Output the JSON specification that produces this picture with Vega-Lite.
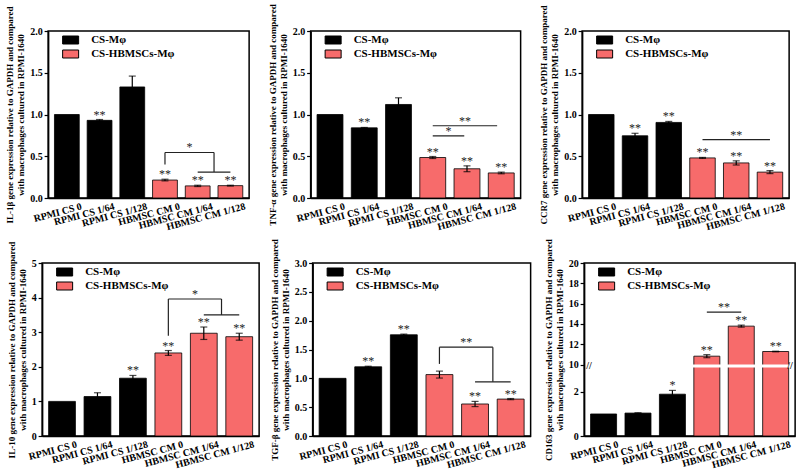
{
  "$schema": "https://vega.github.io/schema/vega-lite/v6.json",
  "padding": {"left": 4, "top": 3, "right": 4, "bottom": 0},
  "background": "white",
  "datasets": {
    "bars": [
      {"gene": "IL1b", "i": 1, "cond": "RPMI CS 0", "group": "CS-Mφ", "value": 1.0, "err": 0, "sig": ""},
      {"gene": "IL1b", "i": 2, "cond": "RPMI CS 1/64", "group": "CS-Mφ", "value": 0.93, "err": 0.01, "sig": "**"},
      {"gene": "IL1b", "i": 3, "cond": "RPMI CS 1/128", "group": "CS-Mφ", "value": 1.33, "err": 0.13, "sig": ""},
      {"gene": "IL1b", "i": 4, "cond": "HBMSC CM 0", "group": "CS-HBMSCs-Mφ", "value": 0.215, "err": 0.01, "sig": "**"},
      {"gene": "IL1b", "i": 5, "cond": "HBMSC CM 1/64", "group": "CS-HBMSCs-Mφ", "value": 0.145, "err": 0.008, "sig": "**"},
      {"gene": "IL1b", "i": 6, "cond": "HBMSC CM 1/128", "group": "CS-HBMSCs-Mφ", "value": 0.148, "err": 0.005, "sig": "**"},
      {"gene": "TNFa", "i": 1, "cond": "RPMI CS 0", "group": "CS-Mφ", "value": 1.0, "err": 0, "sig": ""},
      {"gene": "TNFa", "i": 2, "cond": "RPMI CS 1/64", "group": "CS-Mφ", "value": 0.84, "err": 0.005, "sig": "**"},
      {"gene": "TNFa", "i": 3, "cond": "RPMI CS 1/128", "group": "CS-Mφ", "value": 1.12, "err": 0.08, "sig": ""},
      {"gene": "TNFa", "i": 4, "cond": "HBMSC CM 0", "group": "CS-HBMSCs-Mφ", "value": 0.485, "err": 0.012, "sig": "**"},
      {"gene": "TNFa", "i": 5, "cond": "HBMSC CM 1/64", "group": "CS-HBMSCs-Mφ", "value": 0.35, "err": 0.035, "sig": "**"},
      {"gene": "TNFa", "i": 6, "cond": "HBMSC CM 1/128", "group": "CS-HBMSCs-Mφ", "value": 0.30, "err": 0.01, "sig": "**"},
      {"gene": "CCR7", "i": 1, "cond": "RPMI CS 0", "group": "CS-Mφ", "value": 1.0, "err": 0, "sig": ""},
      {"gene": "CCR7", "i": 2, "cond": "RPMI CS 1/64", "group": "CS-Mφ", "value": 0.745, "err": 0.03, "sig": "**"},
      {"gene": "CCR7", "i": 3, "cond": "RPMI CS 1/128", "group": "CS-Mφ", "value": 0.905, "err": 0.012, "sig": "**"},
      {"gene": "CCR7", "i": 4, "cond": "HBMSC CM 0", "group": "CS-HBMSCs-Mφ", "value": 0.48, "err": 0.006, "sig": "**"},
      {"gene": "CCR7", "i": 5, "cond": "HBMSC CM 1/64", "group": "CS-HBMSCs-Mφ", "value": 0.42, "err": 0.025, "sig": "**"},
      {"gene": "CCR7", "i": 6, "cond": "HBMSC CM 1/128", "group": "CS-HBMSCs-Mφ", "value": 0.31, "err": 0.018, "sig": "**"},
      {"gene": "IL10", "i": 1, "cond": "RPMI CS 0", "group": "CS-Mφ", "value": 1.0, "err": 0, "sig": ""},
      {"gene": "IL10", "i": 2, "cond": "RPMI CS 1/64", "group": "CS-Mφ", "value": 1.14, "err": 0.11, "sig": ""},
      {"gene": "IL10", "i": 3, "cond": "RPMI CS 1/128", "group": "CS-Mφ", "value": 1.67, "err": 0.08, "sig": "**"},
      {"gene": "IL10", "i": 4, "cond": "HBMSC CM 0", "group": "CS-HBMSCs-Mφ", "value": 2.4, "err": 0.07, "sig": "**"},
      {"gene": "IL10", "i": 5, "cond": "HBMSC CM 1/64", "group": "CS-HBMSCs-Mφ", "value": 2.97, "err": 0.18, "sig": "**"},
      {"gene": "IL10", "i": 6, "cond": "HBMSC CM 1/128", "group": "CS-HBMSCs-Mφ", "value": 2.87, "err": 0.1, "sig": "**"},
      {"gene": "TGFb", "i": 1, "cond": "RPMI CS 0", "group": "CS-Mφ", "value": 1.0, "err": 0, "sig": ""},
      {"gene": "TGFb", "i": 2, "cond": "RPMI CS 1/64", "group": "CS-Mφ", "value": 1.2, "err": 0.01, "sig": "**"},
      {"gene": "TGFb", "i": 3, "cond": "RPMI CS 1/128", "group": "CS-Mφ", "value": 1.755, "err": 0.012, "sig": "**"},
      {"gene": "TGFb", "i": 4, "cond": "HBMSC CM 0", "group": "CS-HBMSCs-Mφ", "value": 1.065, "err": 0.06, "sig": ""},
      {"gene": "TGFb", "i": 5, "cond": "HBMSC CM 1/64", "group": "CS-HBMSCs-Mφ", "value": 0.555, "err": 0.045, "sig": "**"},
      {"gene": "TGFb", "i": 6, "cond": "HBMSC CM 1/128", "group": "CS-HBMSCs-Mφ", "value": 0.64, "err": 0.01, "sig": "**"},
      {"gene": "CD163", "i": 1, "cond": "RPMI CS 0", "group": "CS-Mφ", "value": 0.99, "err": 0, "sig": ""},
      {"gene": "CD163", "i": 2, "cond": "RPMI CS 1/64", "group": "CS-Mφ", "value": 1.03, "err": 0.01, "sig": ""},
      {"gene": "CD163", "i": 3, "cond": "RPMI CS 1/128", "group": "CS-Mφ", "value": 1.88, "err": 0.17, "sig": "*"},
      {"gene": "CD163", "i": 4, "cond": "HBMSC CM 0", "group": "CS-HBMSCs-Mφ", "value": 10.82, "err": 0.15, "sig": "**"},
      {"gene": "CD163", "i": 5, "cond": "HBMSC CM 1/64", "group": "CS-HBMSCs-Mφ", "value": 13.78, "err": 0.1, "sig": "**"},
      {"gene": "CD163", "i": 6, "cond": "HBMSC CM 1/128", "group": "CS-HBMSCs-Mφ", "value": 11.28, "err": 0.03, "sig": "**"}
    ],
    "brk": [
      {"gene": "IL1b", "x": 4, "x2": 4, "y": 0.40, "y2": 0.545},
      {"gene": "IL1b", "x": 4, "x2": 5.5, "y": 0.545, "y2": 0.545},
      {"gene": "IL1b", "x": 5.5, "x2": 5.5, "y": 0.545, "y2": 0.31},
      {"gene": "IL1b", "x": 5, "x2": 6, "y": 0.31, "y2": 0.31},
      {"gene": "TNFa", "x": 4, "x2": 4.92, "y": 0.745, "y2": 0.745},
      {"gene": "TNFa", "x": 4, "x2": 5.88, "y": 0.865, "y2": 0.865},
      {"gene": "CCR7", "x": 4, "x2": 6, "y": 0.70, "y2": 0.70},
      {"gene": "IL10", "x": 4, "x2": 4, "y": 2.9, "y2": 3.96},
      {"gene": "IL10", "x": 4, "x2": 5.5, "y": 3.96, "y2": 3.96},
      {"gene": "IL10", "x": 5.5, "x2": 5.5, "y": 3.96, "y2": 3.5},
      {"gene": "IL10", "x": 5, "x2": 6, "y": 3.5, "y2": 3.5},
      {"gene": "TGFb", "x": 4, "x2": 4, "y": 1.25, "y2": 1.54},
      {"gene": "TGFb", "x": 4, "x2": 5.5, "y": 1.54, "y2": 1.54},
      {"gene": "TGFb", "x": 5.5, "x2": 5.5, "y": 1.54, "y2": 0.94},
      {"gene": "TGFb", "x": 5, "x2": 6, "y": 0.94, "y2": 0.94},
      {"gene": "CD163", "x": 4, "x2": 5, "y": 15.16, "y2": 15.16}
    ],
    "btx": [
      {"gene": "IL1b", "x": 4.75, "y": 0.545, "t": "*"},
      {"gene": "TNFa", "x": 4.46, "y": 0.745, "t": "*"},
      {"gene": "TNFa", "x": 4.94, "y": 0.865, "t": "**"},
      {"gene": "CCR7", "x": 5, "y": 0.70, "t": "**"},
      {"gene": "IL10", "x": 4.75, "y": 3.96, "t": "*"},
      {"gene": "TGFb", "x": 4.75, "y": 1.54, "t": "**"},
      {"gene": "CD163", "x": 4.5, "y": 15.16, "t": "**"}
    ],
    "gap": [
      {"x": 0.5, "x2": 6.5, "y": 3.08, "y2": 10}
    ],
    "brkmark": [
      {"x": 0.58, "y": 6.5, "t": "//"},
      {"x": 6.42, "y": 6.5, "t": "//"}
    ]
  },
  "vconcat": [
    {
      "hconcat": [
        {
          "width": 201, "height": 167,
          "layer": [
            {"data": {"name": "bars"}, "transform": [{"filter": "datum.gene == 'IL1b'"}],
             "mark": {"type": "bar", "size": 24.8, "stroke": "black", "strokeWidth": 0.8, "orient": "vertical"},
             "encoding": {
               "x": {"field": "i", "type": "quantitative", "scale": {"domain": [0.58, 6.42], "nice": false, "zero": false},
                     "axis": {"values": [1, 2, 3, 4, 5, 6], "title": null, "labelExpr": "['','RPMI CS 0','RPMI CS 1/64','RPMI CS 1/128','HBMSC CM 0','HBMSC CM 1/64','HBMSC CM 1/128'][datum.value]"}},
               "y": {"field": "value", "type": "quantitative", "scale": {"domain": [0, 2], "nice": false},
                     "axis": {"values": [0, 0.5, 1, 1.5, 2], "format": ".1f"}, "title": ["IL-1β gene expression relative to GAPDH and compared", "with macrophages cultured in RPMI-1640"]},
               "fill": {"field": "group", "type": "nominal", "scale": {"domain": ["CS-Mφ", "CS-HBMSCs-Mφ"], "range": ["#000000", "#F76B6B"]},
                        "legend": {"title": null, "orient": "none", "legendX": 9, "legendY": 3.5, "symbolType": "M0,-1H4V1H0Z", "symbolSize": 64, "symbolStrokeColor": "black", "symbolStrokeWidth": 1}}
             }},
            {"data": {"name": "bars"}, "transform": [{"filter": "datum.gene == 'IL1b' && datum.err > 0"}, {"calculate": "datum.value - datum.err", "as": "lo"}, {"calculate": "datum.value + datum.err", "as": "hi"}],
             "mark": {"type": "rule", "strokeWidth": 1.2, "color": "black"},
             "encoding": {"x": {"field": "i", "type": "quantitative"}, "y": {"field": "lo", "type": "quantitative", "axis": {"values": [0, 0.5, 1, 1.5, 2], "format": ".1f"}}, "y2": {"field": "hi"}}},
            {"data": {"name": "bars"}, "transform": [{"filter": "datum.gene == 'IL1b' && datum.err > 0"}, {"calculate": "datum.value - datum.err", "as": "lo"}, {"calculate": "datum.value + datum.err", "as": "hi"}, {"fold": ["lo", "hi"], "as": ["end", "ev"]}],
             "mark": {"type": "tick", "orient": "horizontal", "size": 7, "thickness": 1.2, "color": "black"},
             "encoding": {"x": {"field": "i", "type": "quantitative"}, "y": {"field": "ev", "type": "quantitative", "axis": {"values": [0, 0.5, 1, 1.5, 2], "format": ".1f"}}}},
            {"data": {"name": "bars"}, "transform": [{"filter": "datum.gene == 'IL1b' && datum.sig != ''"}, {"calculate": "datum.value + datum.err", "as": "top"}],
             "mark": {"type": "text", "baseline": "alphabetic", "dy": -1, "fontSize": 12},
             "encoding": {"x": {"field": "i", "type": "quantitative"}, "y": {"field": "top", "type": "quantitative", "axis": {"values": [0, 0.5, 1, 1.5, 2], "format": ".1f"}}, "text": {"field": "sig"}, "color": {"value": "#222222"}}},
            {"data": {"name": "brk"}, "transform": [{"filter": "datum.gene == 'IL1b'"}],
             "mark": {"type": "rule", "strokeWidth": 1.2},
             "encoding": {"x": {"field": "x", "type": "quantitative"}, "x2": {"field": "x2"}, "y": {"field": "y", "type": "quantitative", "axis": {"values": [0, 0.5, 1, 1.5, 2], "format": ".1f"}}, "y2": {"field": "y2"}, "color": {"value": "#222222"}}},
            {"data": {"name": "btx"}, "transform": [{"filter": "datum.gene == 'IL1b'"}],
             "mark": {"type": "text", "baseline": "alphabetic", "dy": -1, "fontSize": 12},
             "encoding": {"x": {"field": "x", "type": "quantitative"}, "y": {"field": "y", "type": "quantitative", "axis": {"values": [0, 0.5, 1, 1.5, 2], "format": ".1f"}}, "text": {"field": "t"}, "color": {"value": "#222222"}}}
          ]
        },
        {
          "width": 210, "height": 167,
          "layer": [
            {"data": {"name": "bars"}, "transform": [{"filter": "datum.gene == 'TNFa'"}],
             "mark": {"type": "bar", "size": 25.9, "stroke": "black", "strokeWidth": 0.8, "orient": "vertical"},
             "encoding": {
               "x": {"field": "i", "type": "quantitative", "scale": {"domain": [0.58, 6.42], "nice": false, "zero": false},
                     "axis": {"values": [1, 2, 3, 4, 5, 6], "title": null, "labelExpr": "['','RPMI CS 0','RPMI CS 1/64','RPMI CS 1/128','HBMSC CM 0','HBMSC CM 1/64','HBMSC CM 1/128'][datum.value]"}},
               "y": {"field": "value", "type": "quantitative", "scale": {"domain": [0, 2], "nice": false},
                     "axis": {"values": [0, 0.5, 1, 1.5, 2], "format": ".1f"}, "title": ["TNF-α gene expression relative to GAPDH and compared", "with macrophages cultured in RPMI-1640"]},
               "fill": {"field": "group", "type": "nominal", "scale": {"domain": ["CS-Mφ", "CS-HBMSCs-Mφ"], "range": ["#000000", "#F76B6B"]},
                        "legend": {"title": null, "orient": "none", "legendX": 9, "legendY": 3.5, "symbolType": "M0,-1H4V1H0Z", "symbolSize": 64, "symbolStrokeColor": "black", "symbolStrokeWidth": 1}}
             }},
            {"data": {"name": "bars"}, "transform": [{"filter": "datum.gene == 'TNFa' && datum.err > 0"}, {"calculate": "datum.value - datum.err", "as": "lo"}, {"calculate": "datum.value + datum.err", "as": "hi"}],
             "mark": {"type": "rule", "strokeWidth": 1.2, "color": "black"},
             "encoding": {"x": {"field": "i", "type": "quantitative"}, "y": {"field": "lo", "type": "quantitative", "axis": {"values": [0, 0.5, 1, 1.5, 2], "format": ".1f"}}, "y2": {"field": "hi"}}},
            {"data": {"name": "bars"}, "transform": [{"filter": "datum.gene == 'TNFa' && datum.err > 0"}, {"calculate": "datum.value - datum.err", "as": "lo"}, {"calculate": "datum.value + datum.err", "as": "hi"}, {"fold": ["lo", "hi"], "as": ["end", "ev"]}],
             "mark": {"type": "tick", "orient": "horizontal", "size": 7, "thickness": 1.2, "color": "black"},
             "encoding": {"x": {"field": "i", "type": "quantitative"}, "y": {"field": "ev", "type": "quantitative", "axis": {"values": [0, 0.5, 1, 1.5, 2], "format": ".1f"}}}},
            {"data": {"name": "bars"}, "transform": [{"filter": "datum.gene == 'TNFa' && datum.sig != ''"}, {"calculate": "datum.value + datum.err", "as": "top"}],
             "mark": {"type": "text", "baseline": "alphabetic", "dy": -1, "fontSize": 12},
             "encoding": {"x": {"field": "i", "type": "quantitative"}, "y": {"field": "top", "type": "quantitative", "axis": {"values": [0, 0.5, 1, 1.5, 2], "format": ".1f"}}, "text": {"field": "sig"}, "color": {"value": "#222222"}}},
            {"data": {"name": "brk"}, "transform": [{"filter": "datum.gene == 'TNFa'"}],
             "mark": {"type": "rule", "strokeWidth": 1.2},
             "encoding": {"x": {"field": "x", "type": "quantitative"}, "x2": {"field": "x2"}, "y": {"field": "y", "type": "quantitative", "axis": {"values": [0, 0.5, 1, 1.5, 2], "format": ".1f"}}, "y2": {"field": "y2"}, "color": {"value": "#222222"}}},
            {"data": {"name": "btx"}, "transform": [{"filter": "datum.gene == 'TNFa'"}],
             "mark": {"type": "text", "baseline": "alphabetic", "dy": -1, "fontSize": 12},
             "encoding": {"x": {"field": "x", "type": "quantitative"}, "y": {"field": "y", "type": "quantitative", "axis": {"values": [0, 0.5, 1, 1.5, 2], "format": ".1f"}}, "text": {"field": "t"}, "color": {"value": "#222222"}}}
          ]
        },
        {
          "width": 207, "height": 167,
          "layer": [
            {"data": {"name": "bars"}, "transform": [{"filter": "datum.gene == 'CCR7'"}],
             "mark": {"type": "bar", "size": 25.5, "stroke": "black", "strokeWidth": 0.8, "orient": "vertical"},
             "encoding": {
               "x": {"field": "i", "type": "quantitative", "scale": {"domain": [0.58, 6.42], "nice": false, "zero": false},
                     "axis": {"values": [1, 2, 3, 4, 5, 6], "title": null, "labelExpr": "['','RPMI CS 0','RPMI CS 1/64','RPMI CS 1/128','HBMSC CM 0','HBMSC CM 1/64','HBMSC CM 1/128'][datum.value]"}},
               "y": {"field": "value", "type": "quantitative", "scale": {"domain": [0, 2], "nice": false},
                     "axis": {"values": [0, 0.5, 1, 1.5, 2], "format": ".1f"}, "title": ["CCR7 gene expression relative to GAPDH and compared", "with macrophages cultured in RPMI-1640"]},
               "fill": {"field": "group", "type": "nominal", "scale": {"domain": ["CS-Mφ", "CS-HBMSCs-Mφ"], "range": ["#000000", "#F76B6B"]},
                        "legend": {"title": null, "orient": "none", "legendX": 9, "legendY": 3.5, "symbolType": "M0,-1H4V1H0Z", "symbolSize": 64, "symbolStrokeColor": "black", "symbolStrokeWidth": 1}}
             }},
            {"data": {"name": "bars"}, "transform": [{"filter": "datum.gene == 'CCR7' && datum.err > 0"}, {"calculate": "datum.value - datum.err", "as": "lo"}, {"calculate": "datum.value + datum.err", "as": "hi"}],
             "mark": {"type": "rule", "strokeWidth": 1.2, "color": "black"},
             "encoding": {"x": {"field": "i", "type": "quantitative"}, "y": {"field": "lo", "type": "quantitative", "axis": {"values": [0, 0.5, 1, 1.5, 2], "format": ".1f"}}, "y2": {"field": "hi"}}},
            {"data": {"name": "bars"}, "transform": [{"filter": "datum.gene == 'CCR7' && datum.err > 0"}, {"calculate": "datum.value - datum.err", "as": "lo"}, {"calculate": "datum.value + datum.err", "as": "hi"}, {"fold": ["lo", "hi"], "as": ["end", "ev"]}],
             "mark": {"type": "tick", "orient": "horizontal", "size": 7, "thickness": 1.2, "color": "black"},
             "encoding": {"x": {"field": "i", "type": "quantitative"}, "y": {"field": "ev", "type": "quantitative", "axis": {"values": [0, 0.5, 1, 1.5, 2], "format": ".1f"}}}},
            {"data": {"name": "bars"}, "transform": [{"filter": "datum.gene == 'CCR7' && datum.sig != ''"}, {"calculate": "datum.value + datum.err", "as": "top"}],
             "mark": {"type": "text", "baseline": "alphabetic", "dy": -1, "fontSize": 12},
             "encoding": {"x": {"field": "i", "type": "quantitative"}, "y": {"field": "top", "type": "quantitative", "axis": {"values": [0, 0.5, 1, 1.5, 2], "format": ".1f"}}, "text": {"field": "sig"}, "color": {"value": "#222222"}}},
            {"data": {"name": "brk"}, "transform": [{"filter": "datum.gene == 'CCR7'"}],
             "mark": {"type": "rule", "strokeWidth": 1.2},
             "encoding": {"x": {"field": "x", "type": "quantitative"}, "x2": {"field": "x2"}, "y": {"field": "y", "type": "quantitative", "axis": {"values": [0, 0.5, 1, 1.5, 2], "format": ".1f"}}, "y2": {"field": "y2"}, "color": {"value": "#222222"}}},
            {"data": {"name": "btx"}, "transform": [{"filter": "datum.gene == 'CCR7'"}],
             "mark": {"type": "text", "baseline": "alphabetic", "dy": -1, "fontSize": 12},
             "encoding": {"x": {"field": "x", "type": "quantitative"}, "y": {"field": "y", "type": "quantitative", "axis": {"values": [0, 0.5, 1, 1.5, 2], "format": ".1f"}}, "text": {"field": "t"}, "color": {"value": "#222222"}}}
          ]
        }
      ],
      "spacing": 61.5,
      "bounds": "flush",
      "resolve": {"scale": {"fill": "independent"}, "legend": {"fill": "independent"}}
    },
    {
      "hconcat": [
        {
          "width": 217, "height": 173,
          "layer": [
            {"data": {"name": "bars"}, "transform": [{"filter": "datum.gene == 'IL10'"}],
             "mark": {"type": "bar", "size": 26.8, "stroke": "black", "strokeWidth": 0.8, "orient": "vertical"},
             "encoding": {
               "x": {"field": "i", "type": "quantitative", "scale": {"domain": [0.58, 6.42], "nice": false, "zero": false},
                     "axis": {"values": [1, 2, 3, 4, 5, 6], "title": null, "labelExpr": "['','RPMI CS 0','RPMI CS 1/64','RPMI CS 1/128','HBMSC CM 0','HBMSC CM 1/64','HBMSC CM 1/128'][datum.value]"}},
               "y": {"field": "value", "type": "quantitative", "scale": {"domain": [0, 5], "nice": false},
                     "axis": {"values": [0, 1, 2, 3, 4, 5], "format": "d"}, "title": ["IL-10 gene expression relative to GAPDH and compared", "with macrophages cultured in RPMI-1640"]},
               "fill": {"field": "group", "type": "nominal", "scale": {"domain": ["CS-Mφ", "CS-HBMSCs-Mφ"], "range": ["#000000", "#F76B6B"]},
                        "legend": {"title": null, "orient": "none", "legendX": 9, "legendY": 3.5, "symbolType": "M0,-1H4V1H0Z", "symbolSize": 64, "symbolStrokeColor": "black", "symbolStrokeWidth": 1}}
             }},
            {"data": {"name": "bars"}, "transform": [{"filter": "datum.gene == 'IL10' && datum.err > 0"}, {"calculate": "datum.value - datum.err", "as": "lo"}, {"calculate": "datum.value + datum.err", "as": "hi"}],
             "mark": {"type": "rule", "strokeWidth": 1.2, "color": "black"},
             "encoding": {"x": {"field": "i", "type": "quantitative"}, "y": {"field": "lo", "type": "quantitative", "axis": {"values": [0, 1, 2, 3, 4, 5], "format": "d"}}, "y2": {"field": "hi"}}},
            {"data": {"name": "bars"}, "transform": [{"filter": "datum.gene == 'IL10' && datum.err > 0"}, {"calculate": "datum.value - datum.err", "as": "lo"}, {"calculate": "datum.value + datum.err", "as": "hi"}, {"fold": ["lo", "hi"], "as": ["end", "ev"]}],
             "mark": {"type": "tick", "orient": "horizontal", "size": 7, "thickness": 1.2, "color": "black"},
             "encoding": {"x": {"field": "i", "type": "quantitative"}, "y": {"field": "ev", "type": "quantitative", "axis": {"values": [0, 1, 2, 3, 4, 5], "format": "d"}}}},
            {"data": {"name": "bars"}, "transform": [{"filter": "datum.gene == 'IL10' && datum.sig != ''"}, {"calculate": "datum.value + datum.err", "as": "top"}],
             "mark": {"type": "text", "baseline": "alphabetic", "dy": -1, "fontSize": 12},
             "encoding": {"x": {"field": "i", "type": "quantitative"}, "y": {"field": "top", "type": "quantitative", "axis": {"values": [0, 1, 2, 3, 4, 5], "format": "d"}}, "text": {"field": "sig"}, "color": {"value": "#222222"}}},
            {"data": {"name": "brk"}, "transform": [{"filter": "datum.gene == 'IL10'"}],
             "mark": {"type": "rule", "strokeWidth": 1.2},
             "encoding": {"x": {"field": "x", "type": "quantitative"}, "x2": {"field": "x2"}, "y": {"field": "y", "type": "quantitative", "axis": {"values": [0, 1, 2, 3, 4, 5], "format": "d"}}, "y2": {"field": "y2"}, "color": {"value": "#222222"}}},
            {"data": {"name": "btx"}, "transform": [{"filter": "datum.gene == 'IL10'"}],
             "mark": {"type": "text", "baseline": "alphabetic", "dy": -1, "fontSize": 12},
             "encoding": {"x": {"field": "x", "type": "quantitative"}, "y": {"field": "y", "type": "quantitative", "axis": {"values": [0, 1, 2, 3, 4, 5], "format": "d"}}, "text": {"field": "t"}, "color": {"value": "#222222"}}}
          ]
        },
        {
          "width": 218, "height": 173,
          "layer": [
            {"data": {"name": "bars"}, "transform": [{"filter": "datum.gene == 'TGFb'"}],
             "mark": {"type": "bar", "size": 26.9, "stroke": "black", "strokeWidth": 0.8, "orient": "vertical"},
             "encoding": {
               "x": {"field": "i", "type": "quantitative", "scale": {"domain": [0.58, 6.42], "nice": false, "zero": false},
                     "axis": {"values": [1, 2, 3, 4, 5, 6], "title": null, "labelExpr": "['','RPMI CS 0','RPMI CS 1/64','RPMI CS 1/128','HBMSC CM 0','HBMSC CM 1/64','HBMSC CM 1/128'][datum.value]"}},
               "y": {"field": "value", "type": "quantitative", "scale": {"domain": [0, 3], "nice": false},
                     "axis": {"values": [0, 0.5, 1, 1.5, 2, 2.5, 3], "format": ".1f"}, "title": ["TGF-β gene expression relative to GAPDH and compared", "with macrophages cultured in RPMI-1640"]},
               "fill": {"field": "group", "type": "nominal", "scale": {"domain": ["CS-Mφ", "CS-HBMSCs-Mφ"], "range": ["#000000", "#F76B6B"]},
                        "legend": {"title": null, "orient": "none", "legendX": 9, "legendY": 3.5, "symbolType": "M0,-1H4V1H0Z", "symbolSize": 64, "symbolStrokeColor": "black", "symbolStrokeWidth": 1}}
             }},
            {"data": {"name": "bars"}, "transform": [{"filter": "datum.gene == 'TGFb' && datum.err > 0"}, {"calculate": "datum.value - datum.err", "as": "lo"}, {"calculate": "datum.value + datum.err", "as": "hi"}],
             "mark": {"type": "rule", "strokeWidth": 1.2, "color": "black"},
             "encoding": {"x": {"field": "i", "type": "quantitative"}, "y": {"field": "lo", "type": "quantitative", "axis": {"values": [0, 0.5, 1, 1.5, 2, 2.5, 3], "format": ".1f"}}, "y2": {"field": "hi"}}},
            {"data": {"name": "bars"}, "transform": [{"filter": "datum.gene == 'TGFb' && datum.err > 0"}, {"calculate": "datum.value - datum.err", "as": "lo"}, {"calculate": "datum.value + datum.err", "as": "hi"}, {"fold": ["lo", "hi"], "as": ["end", "ev"]}],
             "mark": {"type": "tick", "orient": "horizontal", "size": 7, "thickness": 1.2, "color": "black"},
             "encoding": {"x": {"field": "i", "type": "quantitative"}, "y": {"field": "ev", "type": "quantitative", "axis": {"values": [0, 0.5, 1, 1.5, 2, 2.5, 3], "format": ".1f"}}}},
            {"data": {"name": "bars"}, "transform": [{"filter": "datum.gene == 'TGFb' && datum.sig != ''"}, {"calculate": "datum.value + datum.err", "as": "top"}],
             "mark": {"type": "text", "baseline": "alphabetic", "dy": -1, "fontSize": 12},
             "encoding": {"x": {"field": "i", "type": "quantitative"}, "y": {"field": "top", "type": "quantitative", "axis": {"values": [0, 0.5, 1, 1.5, 2, 2.5, 3], "format": ".1f"}}, "text": {"field": "sig"}, "color": {"value": "#222222"}}},
            {"data": {"name": "brk"}, "transform": [{"filter": "datum.gene == 'TGFb'"}],
             "mark": {"type": "rule", "strokeWidth": 1.2},
             "encoding": {"x": {"field": "x", "type": "quantitative"}, "x2": {"field": "x2"}, "y": {"field": "y", "type": "quantitative", "axis": {"values": [0, 0.5, 1, 1.5, 2, 2.5, 3], "format": ".1f"}}, "y2": {"field": "y2"}, "color": {"value": "#222222"}}},
            {"data": {"name": "btx"}, "transform": [{"filter": "datum.gene == 'TGFb'"}],
             "mark": {"type": "text", "baseline": "alphabetic", "dy": -1, "fontSize": 12},
             "encoding": {"x": {"field": "x", "type": "quantitative"}, "y": {"field": "y", "type": "quantitative", "axis": {"values": [0, 0.5, 1, 1.5, 2, 2.5, 3], "format": ".1f"}}, "text": {"field": "t"}, "color": {"value": "#222222"}}}
          ]
        },
        {
          "width": 211, "height": 173,
          "layer": [
            {"data": {"name": "bars"}, "transform": [{"filter": "datum.gene == 'CD163'"}],
             "mark": {"type": "bar", "size": 26, "stroke": "black", "strokeWidth": 0.8, "orient": "vertical"},
             "encoding": {
               "x": {"field": "i", "type": "quantitative", "scale": {"domain": [0.58, 6.42], "nice": false, "zero": false},
                     "axis": {"values": [1, 2, 3, 4, 5, 6], "title": null, "labelExpr": "['','RPMI CS 0','RPMI CS 1/64','RPMI CS 1/128','HBMSC CM 0','HBMSC CM 1/64','HBMSC CM 1/128'][datum.value]"}},
               "y": {"field": "value", "type": "quantitative", "scale": {"domain": [0, 3.08, 10, 20], "range": [173, 104.5, 101.5, 0], "nice": false, "zero": false},
                     "axis": {"values": [0, 2, 10, 12, 14, 16, 18, 20], "format": "d"}, "title": ["CD163 gene expression relative to GAPDH and compared", "with macrophages cultured in RPMI-1640"]},
               "fill": {"field": "group", "type": "nominal", "scale": {"domain": ["CS-Mφ", "CS-HBMSCs-Mφ"], "range": ["#000000", "#F76B6B"]},
                        "legend": {"title": null, "orient": "none", "legendX": 9, "legendY": 3.5, "symbolType": "M0,-1H4V1H0Z", "symbolSize": 64, "symbolStrokeColor": "black", "symbolStrokeWidth": 1}}
             }},
            {"data": {"name": "bars"}, "transform": [{"filter": "datum.gene == 'CD163' && datum.err > 0"}, {"calculate": "datum.value - datum.err", "as": "lo"}, {"calculate": "datum.value + datum.err", "as": "hi"}],
             "mark": {"type": "rule", "strokeWidth": 1.2, "color": "black"},
             "encoding": {"x": {"field": "i", "type": "quantitative"}, "y": {"field": "lo", "type": "quantitative", "axis": {"values": [0, 2, 10, 12, 14, 16, 18, 20], "format": "d"}}, "y2": {"field": "hi"}}},
            {"data": {"name": "bars"}, "transform": [{"filter": "datum.gene == 'CD163' && datum.err > 0"}, {"calculate": "datum.value - datum.err", "as": "lo"}, {"calculate": "datum.value + datum.err", "as": "hi"}, {"fold": ["lo", "hi"], "as": ["end", "ev"]}],
             "mark": {"type": "tick", "orient": "horizontal", "size": 7, "thickness": 1.2, "color": "black"},
             "encoding": {"x": {"field": "i", "type": "quantitative"}, "y": {"field": "ev", "type": "quantitative", "axis": {"values": [0, 2, 10, 12, 14, 16, 18, 20], "format": "d"}}}},
            {"data": {"name": "bars"}, "transform": [{"filter": "datum.gene == 'CD163' && datum.sig != ''"}, {"calculate": "datum.value + datum.err", "as": "top"}],
             "mark": {"type": "text", "baseline": "alphabetic", "dy": -1, "fontSize": 12},
             "encoding": {"x": {"field": "i", "type": "quantitative"}, "y": {"field": "top", "type": "quantitative", "axis": {"values": [0, 2, 10, 12, 14, 16, 18, 20], "format": "d"}}, "text": {"field": "sig"}, "color": {"value": "#222222"}}},
            {"data": {"name": "brk"}, "transform": [{"filter": "datum.gene == 'CD163'"}],
             "mark": {"type": "rule", "strokeWidth": 1.2},
             "encoding": {"x": {"field": "x", "type": "quantitative"}, "x2": {"field": "x2"}, "y": {"field": "y", "type": "quantitative", "axis": {"values": [0, 2, 10, 12, 14, 16, 18, 20], "format": "d"}}, "y2": {"field": "y2"}, "color": {"value": "#222222"}}},
            {"data": {"name": "btx"}, "transform": [{"filter": "datum.gene == 'CD163'"}],
             "mark": {"type": "text", "baseline": "alphabetic", "dy": -1, "fontSize": 12},
             "encoding": {"x": {"field": "x", "type": "quantitative"}, "y": {"field": "y", "type": "quantitative", "axis": {"values": [0, 2, 10, 12, 14, 16, 18, 20], "format": "d"}}, "text": {"field": "t"}, "color": {"value": "#222222"}}},
            {"data": {"name": "gap"},
             "mark": {"type": "rect", "clip": false},
             "encoding": {"x": {"field": "x", "type": "quantitative"}, "x2": {"field": "x2"}, "y": {"field": "y", "type": "quantitative", "axis": {"values": [0, 2, 10, 12, 14, 16, 18, 20], "format": "d"}}, "y2": {"field": "y2"}, "color": {"value": "white"}}},
            {"data": {"name": "brkmark"},
             "mark": {"type": "text", "fontSize": 10, "fontWeight": "bold", "baseline": "middle"},
             "encoding": {"x": {"field": "x", "type": "quantitative"}, "y": {"field": "y", "type": "quantitative", "axis": {"values": [0, 2, 10, 12, 14, 16, 18, 20], "format": "d"}}, "text": {"field": "t"}, "color": {"value": "#222222"}}}
          ]
        }
      ],
      "spacing": 53.5,
      "bounds": "flush",
      "resolve": {"scale": {"fill": "independent"}, "legend": {"fill": "independent"}}
    }
  ],
  "spacing": 4,
  "center": true,
  "bounds": "full",
  "resolve": {"scale": {"fill": "independent"}, "legend": {"fill": "independent"}},
  "config": {
    "font": "Liberation Serif",
    "view": {"stroke": "black", "strokeWidth": 1.5},
    "axis": {
      "labelFont": "Liberation Serif", "labelFontWeight": "bold", "labelFontSize": 10, "labelColor": "black",
      "titleFont": "Liberation Serif", "titleFontWeight": "bold", "titleFontSize": 9, "titleColor": "black",
      "titleLineHeight": 11,
      "domainColor": "black", "domainWidth": 1.5, "tickColor": "black", "tickWidth": 1.2, "grid": false,
      "labelFlush": false, "labelOverlap": false
    },
    "axisX": {"ticks": false, "labelAngle": -15, "labelAlign": "right", "labelBaseline": "top", "labelOffset": 13, "labelPadding": 3},
    "axisY": {"tickSize": 4, "labelPadding": 2, "titlePadding": 4},
    "legend": {
      "padding": 0,
      "labelFont": "Liberation Serif", "labelFontWeight": "bold", "labelFontSize": 11, "labelColor": "black",
      "labelOffset": 23, "rowPadding": 1
    }
  }
}
